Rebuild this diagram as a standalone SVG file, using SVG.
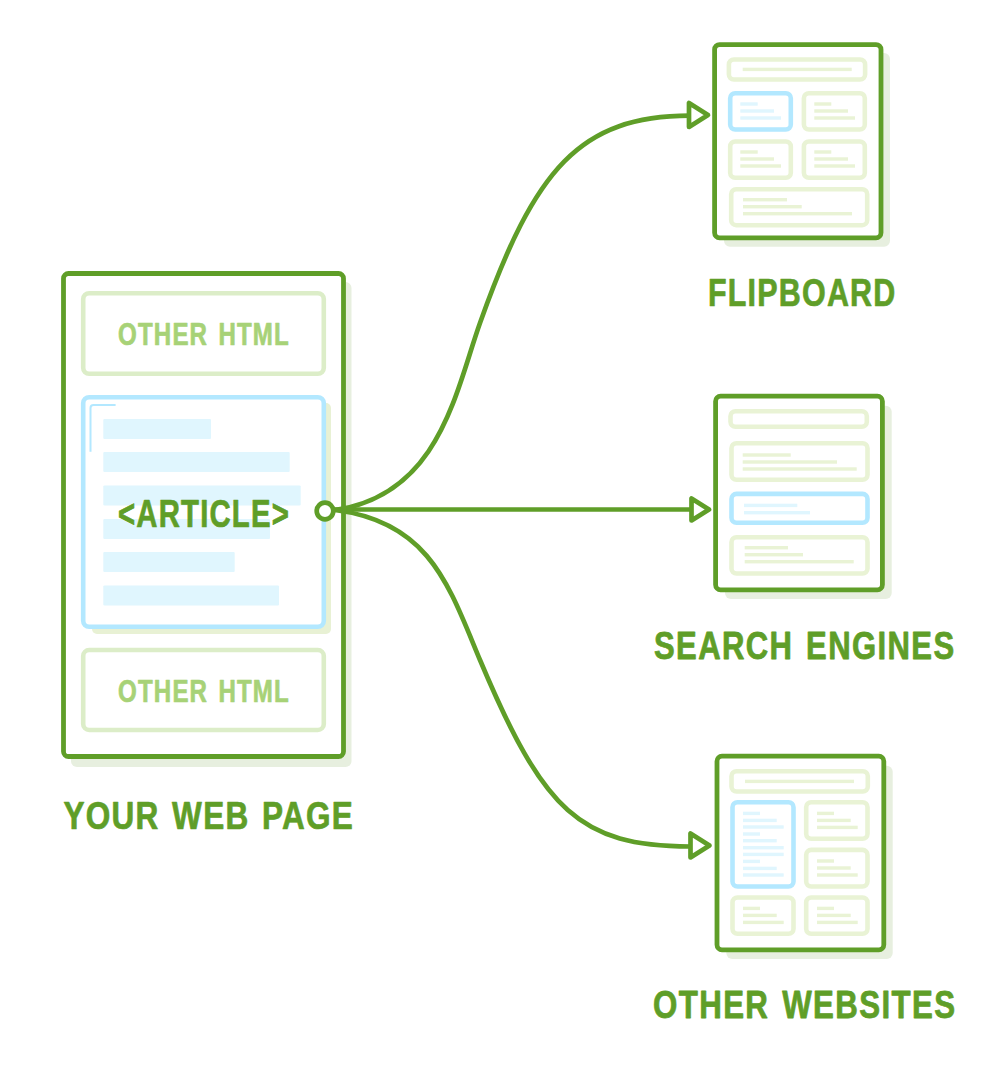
<svg xmlns="http://www.w3.org/2000/svg" width="1004" height="1074" viewBox="0 0 1004 1074">
<style>
.sh{fill:#e7efdf}
.sh2{fill:#e8f1d4}
.outer{fill:#fff;stroke:#5f9e28;stroke-width:4.8}
.g{fill:#fff;stroke:#e9f3d5;stroke-width:4.6}
.b{fill:#fff;stroke:#b3e8ff;stroke-width:4.6}
.gl{fill:#e9f3d5}
.bl{fill:#e0f6fe}
.lg{fill:#fff;stroke:#dcedc8;stroke-width:4.6}
.bar{fill:#e0f6fe}
.t{font-family:"Liberation Sans Narrow","Liberation Sans",sans-serif;font-weight:700;fill:#5f9e28;stroke:#5f9e28;stroke-width:.7;stroke-linejoin:round;letter-spacing:1.5px;word-spacing:3px}
.t2{fill:#a7d277;stroke:#a7d277;font-size:31px}
.t1{font-size:38px}
.t3{font-size:34px}
.c{fill:none;stroke:#5f9e28;stroke-width:4.7}
.a{fill:#fff;stroke:#5f9e28;stroke-width:4.7;stroke-linejoin:round}
</style>
<g id="page">
<rect class="sh" x="71" y="282" width="280.500" height="485" rx="6"/>
<rect class="outer" x="63.500" y="273.500" width="280" height="483" rx="5"/>
<rect class="lg" x="83.200" y="293.200" width="240.600" height="80.600" rx="6"/>
<text class="t t2" x="118" y="345" textLength="172" lengthAdjust="spacingAndGlyphs">OTHER HTML</text>
<rect class="sh2" x="92" y="403" width="239" height="231" rx="5"/>
<rect class="b" x="83.200" y="397.200" width="240.600" height="229.600" rx="6"/>
<path d="M90.500 451.700V408Q90.500 405 93.500 405H115.600" fill="none" stroke="#b3e8ff" stroke-width="2"/>
<rect class="bar" x="103.300" y="419" width="107.700" height="20" rx="1"/>
<rect class="bar" x="103.300" y="452" width="186.400" height="20" rx="1"/>
<rect class="bar" x="103.300" y="485.500" width="197.400" height="20" rx="1"/>
<rect class="bar" x="103.300" y="519" width="166.700" height="20" rx="1"/>
<rect class="bar" x="103.300" y="552" width="131.400" height="20" rx="1"/>
<rect class="bar" x="103.300" y="585.500" width="175.700" height="20" rx="1"/>
<text class="t t1" x="118" y="527" textLength="172" lengthAdjust="spacingAndGlyphs">&lt;ARTICLE&gt;</text>
<rect class="lg" x="83.200" y="650" width="240.600" height="80" rx="6"/>
<text class="t t2" x="118" y="702" textLength="172" lengthAdjust="spacingAndGlyphs">OTHER HTML</text>
<text class="t t1" x="63.500" y="829" textLength="290.500" lengthAdjust="spacingAndGlyphs">YOUR WEB PAGE</text>
</g>
<g id="flipboard">
<rect class="sh" x="724" y="53" width="166" height="193.700" rx="6"/>
<rect class="outer" x="714.600" y="44.600" width="166.400" height="193.200" rx="5"/>
<rect class="g" x="728.900" y="59.500" width="136.200" height="20" rx="5"/>
<rect class="gl" x="742.700" y="67.700" width="109" height="3.400"/>
<rect class="b" x="730.200" y="93.200" width="60.600" height="36.300" rx="5"/>
<rect class="bl" x="740.300" y="102.300" width="17.400" height="3.400"/>
<rect class="bl" x="740.300" y="109.300" width="33.700" height="3.400"/>
<rect class="bl" x="740.300" y="116.300" width="40.700" height="3.400"/>
<rect class="g" x="803.900" y="93.200" width="60.900" height="36.300" rx="5"/>
<rect class="gl" x="814.300" y="102.300" width="17" height="3.400"/>
<rect class="gl" x="814.300" y="109.300" width="33.700" height="3.400"/>
<rect class="gl" x="814.300" y="116.300" width="40.700" height="3.400"/>
<rect class="g" x="730.200" y="141.500" width="60.600" height="36.300" rx="5"/>
<rect class="gl" x="740.300" y="150.300" width="17.400" height="3.400"/>
<rect class="gl" x="740.300" y="157.300" width="33.700" height="3.400"/>
<rect class="gl" x="740.300" y="164.300" width="40.700" height="3.400"/>
<rect class="g" x="803.900" y="141.500" width="60.900" height="36.300" rx="5"/>
<rect class="gl" x="814.300" y="150.300" width="17" height="3.400"/>
<rect class="gl" x="814.300" y="157.300" width="33.700" height="3.400"/>
<rect class="gl" x="814.300" y="164.300" width="40.700" height="3.400"/>
<rect class="g" x="731.200" y="189.200" width="136" height="36" rx="5"/>
<rect class="gl" x="743" y="198" width="44" height="3.400"/>
<rect class="gl" x="743" y="205" width="58.700" height="3.400"/>
<rect class="gl" x="743" y="212" width="109" height="3.400"/>
<text class="t t1" x="708" y="306" textLength="188.500" lengthAdjust="spacingAndGlyphs">FLIPBOARD</text>
</g>
<g id="search-engines">
<rect class="sh" x="725" y="405.700" width="166.700" height="193.300" rx="6"/>
<rect class="outer" x="715.600" y="396.200" width="166.800" height="193.600" rx="5"/>
<rect class="g" x="730.500" y="411.200" width="136.300" height="15.600" rx="5"/>
<rect class="g" x="731.500" y="443.200" width="136" height="36.600" rx="5"/>
<rect class="gl" x="742.700" y="453.300" width="48" height="3.400"/>
<rect class="gl" x="742.700" y="460.300" width="94.300" height="3.400"/>
<rect class="gl" x="742.700" y="467.300" width="114" height="3.400"/>
<rect class="b" x="731.500" y="493.900" width="136" height="28.900" rx="5"/>
<rect class="bl" x="744" y="503.700" width="53.300" height="3.400"/>
<rect class="bl" x="744" y="511" width="66" height="3.400"/>
<rect class="g" x="731.500" y="537.200" width="136" height="36.300" rx="5"/>
<rect class="gl" x="744.700" y="546" width="43.300" height="3.400"/>
<rect class="gl" x="744.700" y="553" width="58.300" height="3.400"/>
<rect class="gl" x="744.700" y="560" width="109" height="3.400"/>
<text class="t t3" transform="translate(654 659) scale(1 1.118)" textLength="301.500" lengthAdjust="spacingAndGlyphs">SEARCH ENGINES</text>
</g>
<g id="other-websites">
<rect class="sh" x="726.300" y="765.700" width="166.400" height="193.300" rx="6"/>
<rect class="outer" x="717" y="756.200" width="166.800" height="193.600" rx="5"/>
<rect class="g" x="731.500" y="771.200" width="136.300" height="20.300" rx="5"/>
<rect class="gl" x="745" y="779.700" width="109" height="3.400"/>
<rect class="b" x="732.500" y="802.200" width="61" height="84.300" rx="5"/>
<rect class="bl" x="743" y="811.700" width="17" height="3.400"/>
<rect class="bl" x="743" y="818.700" width="33.700" height="3.400"/>
<rect class="bl" x="743" y="825.300" width="40.700" height="3.400"/>
<rect class="bl" x="743" y="832.300" width="17" height="3.400"/>
<rect class="bl" x="743" y="839" width="33.700" height="3.400"/>
<rect class="bl" x="743" y="846" width="40.700" height="3.400"/>
<rect class="bl" x="743" y="852.700" width="40.700" height="3.400"/>
<rect class="bl" x="743" y="859.700" width="17" height="3.400"/>
<rect class="bl" x="743" y="866.700" width="33.700" height="3.400"/>
<rect class="bl" x="743" y="873.300" width="40.700" height="3.400"/>
<rect class="g" x="806.200" y="802.200" width="61.300" height="36.600" rx="5"/>
<rect class="gl" x="817" y="811.700" width="17" height="3.400"/>
<rect class="gl" x="817" y="818.700" width="33.700" height="3.400"/>
<rect class="gl" x="817" y="825.700" width="40.700" height="3.400"/>
<rect class="g" x="806.200" y="849.900" width="61.300" height="36.600" rx="5"/>
<rect class="gl" x="817" y="859.300" width="17" height="3.400"/>
<rect class="gl" x="817" y="866.300" width="33.700" height="3.400"/>
<rect class="gl" x="817" y="873.300" width="40.700" height="3.400"/>
<rect class="g" x="732.500" y="897.500" width="61" height="36.300" rx="5"/>
<rect class="gl" x="743" y="906.700" width="17" height="3.400"/>
<rect class="gl" x="743" y="913.700" width="33.700" height="3.400"/>
<rect class="gl" x="743" y="920.700" width="40.700" height="3.400"/>
<rect class="g" x="806.200" y="897.500" width="61.300" height="36.300" rx="5"/>
<rect class="gl" x="817" y="906.700" width="17" height="3.400"/>
<rect class="gl" x="817" y="913.700" width="33.700" height="3.400"/>
<rect class="gl" x="817" y="920.700" width="40.700" height="3.400"/>
<text class="t t3" transform="translate(653 1018) scale(1 1.118)" textLength="303.500" lengthAdjust="spacingAndGlyphs">OTHER WEBSITES</text>
</g>
<g id="connectors">
<path class="c" d="M335 510C440 495 456 390 480 323C535 168 580 116 690 115.700"/>
<path class="c" d="M335 509.500H692"/>
<path class="c" d="M335 510C430 522 449 586 480 660C544 812 580 846 690 846.500"/>
<polygon class="a" points="689,103 689,127 708,115"/>
<polygon class="a" points="691.500,498.500 691.500,520.500 709,509.500"/>
<polygon class="a" points="690.500,833.500 690.500,857.500 709.500,845.500"/>
<circle class="a" cx="325" cy="511" r="8.300"/>
</g>
</svg>
